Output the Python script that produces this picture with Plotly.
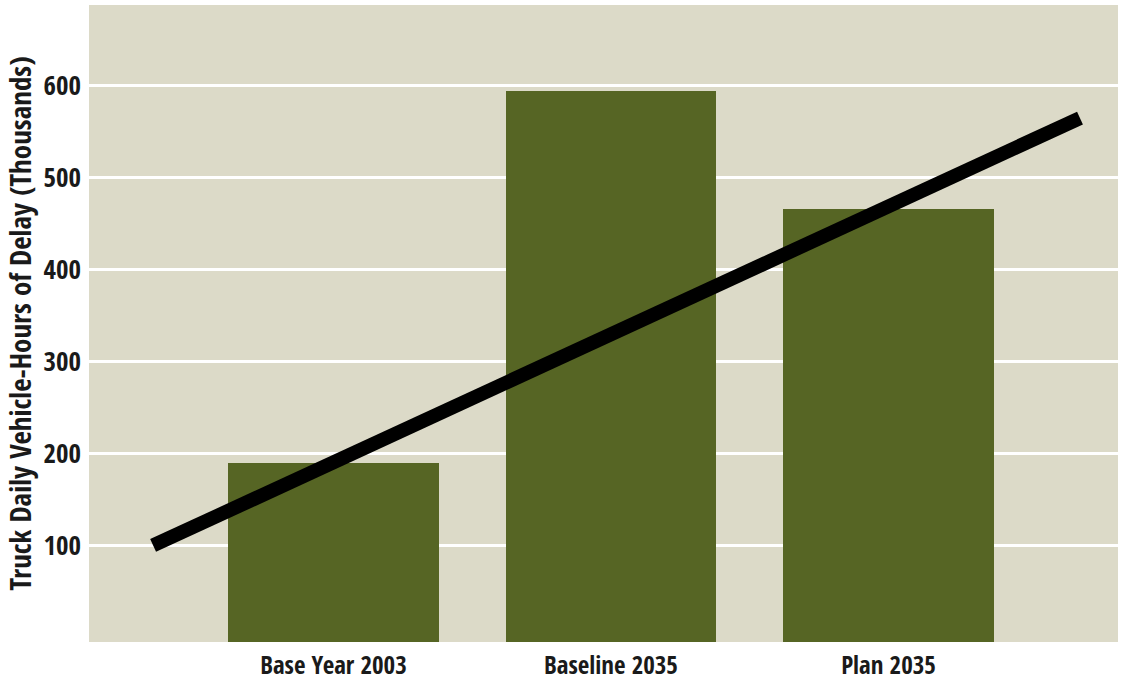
import plotly.graph_objects as go

categories = ["Base Year 2003", "Baseline 2035", "Plan 2035"]
delay_values = [190, 594, 466]
trend_x = [-0.65, 2.69]
trend_y = [100, 565]
y_ticks = [100, 200, 300, 400, 500, 600]

y_floor = -5  # bars in the original are drawn from the bottom of the plot frame
font_family = "Open Sans Condensed, Roboto Condensed, Liberation Sans, Arial, sans-serif"
text_color = "#1a1a1a"

fig = go.Figure()
fig.add_trace(go.Bar(
    x=list(range(len(categories))),
    y=[v - y_floor for v in delay_values],
    base=y_floor,
    marker=dict(color="#566524", line=dict(width=0)),
    width=0.757, hoverinfo="skip",
))
fig.add_trace(go.Scatter(
    x=trend_x, y=trend_y, mode="lines",
    line=dict(color="black", width=14), hoverinfo="skip",
))
fig.update_layout(
    width=1121, height=682,
    margin=dict(l=89, r=3, t=5, b=40),
    paper_bgcolor="white", plot_bgcolor="#dcdac8",
    showlegend=False, bargap=0,
    font=dict(family=font_family, size=24, color=text_color),
    xaxis=dict(
        range=[-0.881, 2.827], tickmode="array",
        tickvals=list(range(len(categories))), ticktext=categories,
        showgrid=False, zeroline=False, showline=False, ticks="",
        ticklabelstandoff=6, automargin=False,
        tickfont=dict(family=font_family, size=25, color=text_color),
    ),
    yaxis=dict(
        range=[y_floor, 688], tickmode="array", tickvals=y_ticks,
        ticktext=[str(v) for v in y_ticks],
        showgrid=True, gridcolor="white", gridwidth=3,
        zeroline=False, showline=False, ticks="", ticklabelstandoff=7,
        automargin=False,
        tickfont=dict(family=font_family, size=27, color=text_color),
        title=dict(text="Truck Daily Vehicle-Hours of Delay (Thousands)",
                   font=dict(family=font_family, size=29, color=text_color),
                   standoff=5),
    ),
)
fig.write_html("out.html")
